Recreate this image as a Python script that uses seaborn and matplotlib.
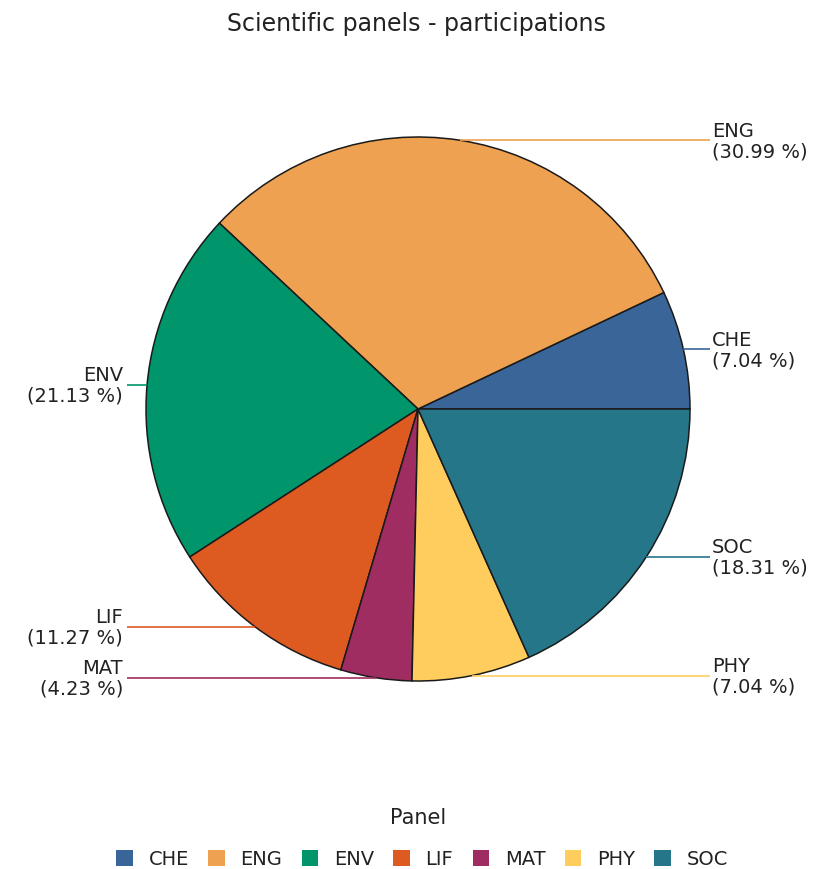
import numpy as np
import seaborn as sns
import matplotlib
matplotlib.use("Agg")
import matplotlib.pyplot as plt
from matplotlib.patches import Patch

# data: number of participations per scientific panel
panels = ["CHE", "ENG", "ENV", "LIF", "MAT", "PHY", "SOC"]
counts = [5, 22, 15, 8, 3, 5, 13]
colors = ["#3a6598", "#eea151", "#00956a", "#dd5a20", "#a02d61", "#fecd5e", "#26768a"]

sns.set_theme(style="white")
plt.rcParams["font.family"] = ["DejaVu Sans"]
palette = sns.color_palette(colors)

W, H = 825, 870
fig = plt.figure(figsize=(W / 100, H / 100), dpi=100)
ax = fig.add_axes([0, 0, 1, 1])

cx, cy, r = 418, H - 410, 272
wedges, _ = ax.pie(counts, colors=palette, startangle=0, counterclock=True,
                   center=(cx, cy), radius=r, frame=True,
                   wedgeprops=dict(edgecolor="#1a1a1a", linewidth=1.1))
ax.set_xlim(0, W)
ax.set_ylim(0, H)
ax.set_aspect("equal")
ax.axis("off")

label_fs = 14
total = sum(counts)
for w, name, n, col in zip(wedges, panels, counts, palette):
    mid = np.deg2rad((w.theta1 + w.theta2) / 2)
    ex = cx + r * np.cos(mid)
    ey = cy + r * np.sin(mid)
    pct = 100 * n / total
    txt = f"{name}\n({pct:.2f} %)"
    if np.cos(mid) >= 0:
        ax.plot([ex, 710], [ey, ey], color=col, lw=1.2, solid_capstyle="butt")
        ax.text(712, ey, txt, ha="left", va="center", fontsize=label_fs,
                color="#222222", linespacing=1.1)
    else:
        ax.plot([127, ex], [ey, ey], color=col, lw=1.2, solid_capstyle="butt")
        ax.text(123, ey, txt, ha="right", va="center", fontsize=label_fs,
                color="#222222", multialignment="right", linespacing=1.1)

fig.text(416 / W, 1 - 24 / H, "Scientific panels - participations",
         ha="center", va="center", fontsize=17, color="#222222")

# legend: title placed separately to get the wide gap of the reference
fig.text(418 / W, 1 - 818 / H, "Panel", ha="center", va="center",
         fontsize=15, color="#222222")
handles = [Patch(facecolor=c, edgecolor="none") for c in palette]
leg = fig.legend(handles, panels, loc="center", bbox_to_anchor=(422 / W, 1 - 860 / H),
                 ncol=7, frameon=False, fontsize=label_fs,
                 handlelength=0.85, handleheight=0.85,
                 handletextpad=0.8, columnspacing=1.0, borderpad=0)
for t in leg.get_texts():
    t.set_color("#222222")

fig.savefig("out.png", dpi=100)
